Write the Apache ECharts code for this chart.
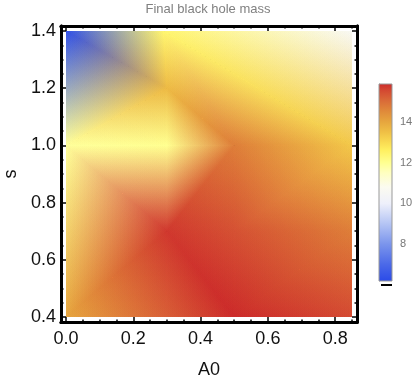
<!DOCTYPE html>
<html>
<head>
<meta charset="utf-8">
<style>
html, body { margin: 0; padding: 0; background: #fff; }
#chart { width: 417px; height: 384px; }
</style>
<script src="https://cdn.jsdelivr.net/npm/echarts@6/dist/echarts.min.js"></script>
</head>
<body>
<div id="chart"></div>
<script>
// mesh vertices
const vertexA0 = [0, 0.3, 0.5, 0.85, 0.3, 0.5, 0.85, 0, 0.3, 0.5, 0.85, 0, 0.29, 0.85, 0.3]
const vertexS = [0.4, 0.4, 0.4, 0.4, 0.7, 0.7, 0.7, 1.0, 1.0, 1.0, 1.0, 1.4, 1.4, 1.4, 1.2]
const vertexMass = [14.0, 15.2, 15.85, 15.5, 15.7, 15.4, 14.7, 11.9, 12.0, 14.7, 13.35, 6.4, 12.4, 10.6, 13.6]
const triangles = [
  [0, 1, 4], [0, 4, 7], [1, 2, 4], [2, 5, 4], [2, 3, 6], [2, 6, 5],
  [4, 8, 7], [4, 9, 8], [4, 5, 9], [5, 6, 10], [5, 10, 9],
  [7, 8, 14], [7, 14, 11], [8, 9, 14], [11, 14, 12], [14, 9, 12], [12, 9, 10], [12, 10, 13]
]

// colour scale
const massStops = [6.19, 7, 8, 9, 10, 10.8, 11.5, 12, 12.6, 13, 13.5, 14, 14.5, 15, 15.5, 15.86]
const massColors = ['#2a4ae8', '#4a68e8', '#7a94ec', '#b4c4f4', '#eef0fb', '#fbfbf0', '#ffffc0', '#ffff90',
  '#fff060', '#f9da52', '#efbf45', '#e6a53e', '#e08a3a', '#da6c38', '#d44a32', '#cc2a2a']

// tick labels
const xMajor = [0, 0.2, 0.4, 0.6, 0.8]
const xMinor = [0.05, 0.1, 0.15, 0.25, 0.3, 0.35, 0.45, 0.5, 0.55, 0.65, 0.7, 0.75, 0.85]
const yMajor = [0.4, 0.6, 0.8, 1.0, 1.2, 1.4]
const yMinor = [0.45, 0.5, 0.55, 0.65, 0.7, 0.75, 0.85, 0.9, 0.95, 1.05, 1.1, 1.15, 1.25, 1.3, 1.35]
const barMajor = [8, 10, 12, 14]
const barMinor = [6.5, 7, 7.5, 8.5, 9, 9.5, 10.5, 11, 11.5, 12.5, 13, 13.5, 14.5, 15, 15.5]

const xPx = 286 / 0.85
const yPx = 286
const xMin = -5 / xPx
const xMax = 291 / xPx
const yMin = 0.4 - 5 / yPx
const yMax = 1.4 + 5 / yPx

const font = '"Liberation Sans", Arial, sans-serif'

function massColor (v) {
  if (v <= massStops[0]) return massColors[0]
  for (let i = 1; i < massStops.length; i++) {
    if (v <= massStops[i]) {
      const t = (v - massStops[i - 1]) / (massStops[i] - massStops[i - 1])
      return echarts.color.lerp(t, [massColors[i - 1], massColors[i]])
    }
  }
  return massColors[massColors.length - 1]
}

// one vertex's share of a triangle: its colour fading to black at the opposite edge
function cornerFill (p, q, r, color) {
  const dx = r[0] - q[0]
  const dy = r[1] - q[1]
  const k = ((p[0] - q[0]) * dx + (p[1] - q[1]) * dy) / (dx * dx + dy * dy)
  const fx = q[0] + k * dx
  const fy = q[1] + k * dy
  return new echarts.graphic.LinearGradient(p[0], p[1], fx, fy, [
    { offset: 0, color: color },
    { offset: 1, color: '#000' }
  ], true)
}

// colours are mixed in RGB across each triangle, added up on a black backing
function renderTriangle (params, api) {
  const ids = [api.value(0), api.value(1), api.value(2)]
  const pts = ids.map(i => api.coord([vertexA0[i], vertexS[i]]))
  return {
    type: 'group',
    children: ids.map((id, n) => ({
      type: 'polygon',
      silent: true,
      shape: { points: pts },
      style: { fill: cornerFill(pts[n], pts[(n + 1) % 3], pts[(n + 2) % 3], massColor(vertexMass[id])) }
    }))
  }
}

function renderBacking (params, api) {
  const a = api.coord([0, 1.4])
  const b = api.coord([0.85, 0.4])
  return {
    type: 'rect',
    silent: true,
    shape: { x: a[0], y: a[1], width: b[0] - a[0], height: b[1] - a[1] },
    style: { fill: '#000' }
  }
}

function renderColorBar (params, api) {
  const a = api.coord([0, api.value(1)])
  const b = api.coord([1, api.value(0)])
  const span = massStops[massStops.length - 1] - massStops[0]
  return {
    type: 'rect',
    silent: true,
    shape: { x: a[0], y: a[1], width: b[0] - a[0], height: b[1] - a[1] },
    style: {
      fill: new echarts.graphic.LinearGradient(0, 1, 0, 0, massStops.map((m, i) => ({
        offset: (m - massStops[0]) / span,
        color: massColors[i]
      }))),
      stroke: '#999',
      lineWidth: 1
    }
  }
}

const frameLine = { show: true, onZero: false, lineStyle: { color: '#000', width: 3 } }
const rect = { left: 61, top: 26, width: 296, height: 296, outerBoundsMode: 'none' }
const barRect = { left: 379, top: 84, width: 13, height: 197, outerBoundsMode: 'none' }

function xAxisFor (gridIndex, position, ticks, len, labels) {
  return {
    type: 'value', gridIndex, position, min: xMin, max: xMax,
    splitLine: { show: false },
    axisLine: frameLine,
    axisTick: { show: true, inside: true, length: len, customValues: ticks, lineStyle: { color: '#000', width: 1.5 } },
    axisLabel: labels
      ? { show: true, customValues: ticks, formatter: v => v.toFixed(1), color: '#111', fontFamily: font, fontSize: 18, margin: 8 }
      : { show: false }
  }
}

function yAxisFor (gridIndex, position, ticks, len, labels) {
  return {
    type: 'value', gridIndex, position, min: yMin, max: yMax,
    splitLine: { show: false },
    axisLine: frameLine,
    axisTick: { show: true, inside: true, length: len, customValues: ticks, lineStyle: { color: '#000', width: 1.5 } },
    axisLabel: labels
      ? { show: true, customValues: ticks, formatter: v => v.toFixed(1), color: '#111', fontFamily: font, fontSize: 18, margin: 5 }
      : { show: false }
  }
}

const bottomMajor = xAxisFor(0, 'bottom', xMajor, 5, true)
bottomMajor.name = 'A0'
bottomMajor.nameLocation = 'middle'
bottomMajor.nameGap = 39
bottomMajor.nameTextStyle = { color: '#111', fontFamily: font, fontSize: 18 }

const leftMajor = yAxisFor(0, 'left', yMajor, 5, true)
leftMajor.name = 's'
leftMajor.nameLocation = 'middle'
leftMajor.nameGap = 38
leftMajor.nameTextStyle = { color: '#111', fontFamily: font, fontSize: 18 }

const option = {
  animation: false,
  backgroundColor: '#fff',
  title: {
    text: 'Final black hole mass',
    left: 208, top: 3, textAlign: 'center', padding: 0,
    textStyle: { color: '#808080', fontFamily: font, fontSize: 13, fontWeight: 'normal' }
  },
  grid: [rect, rect, barRect, barRect],
  xAxis: [
    bottomMajor,
    xAxisFor(0, 'top', xMajor, 5, false),
    xAxisFor(1, 'bottom', xMinor, 2.5, false),
    xAxisFor(1, 'top', xMinor, 2.5, false),
    { type: 'value', gridIndex: 2, min: 0, max: 1, show: false },
    { type: 'value', gridIndex: 3, min: 0, max: 1, show: false }
  ],
  yAxis: [
    leftMajor,
    yAxisFor(0, 'right', yMajor, 5, false),
    yAxisFor(1, 'left', yMinor, 2.5, false),
    yAxisFor(1, 'right', yMinor, 2.5, false),
    {
      type: 'value', gridIndex: 2, position: 'right', min: massStops[0], max: massStops[massStops.length - 1],
      splitLine: { show: false },
      axisLine: { show: true, lineStyle: { color: '#999', width: 1 } },
      axisTick: { show: true, length: 5, customValues: barMajor, lineStyle: { color: '#999' } },
      axisLabel: { show: true, customValues: barMajor, margin: 8, color: '#777', fontFamily: font, fontSize: 11 }
    },
    {
      type: 'value', gridIndex: 3, position: 'right', min: massStops[0], max: massStops[massStops.length - 1],
      splitLine: { show: false },
      axisLine: { show: false },
      axisTick: { show: true, length: 3, customValues: barMinor, lineStyle: { color: '#999' } },
      axisLabel: { show: false }
    }
  ],
  series: [
    { type: 'custom', xAxisIndex: 0, yAxisIndex: 0, z: 1, silent: true, clip: false, renderItem: renderBacking, data: [[0, 0]] },
    { type: 'custom', xAxisIndex: 0, yAxisIndex: 0, z: 2, silent: true, clip: false, blendMode: 'lighter', renderItem: renderTriangle, data: triangles },
    {
      type: 'custom', xAxisIndex: 4, yAxisIndex: 4, z: 2, silent: true, clip: false, renderItem: renderColorBar,
      data: [[massStops[0], massStops[massStops.length - 1]]]
    }
  ],
  graphic: [{
    type: 'rect',
    silent: true,
    shape: { x: 381, y: 284, width: 11, height: 2 },
    style: { fill: '#000' }
  }]
}

const chartInstance = echarts.init(document.getElementById('chart'), null, { renderer: 'canvas' })
chartInstance.setOption(option)
</script>
</body>
</html>
